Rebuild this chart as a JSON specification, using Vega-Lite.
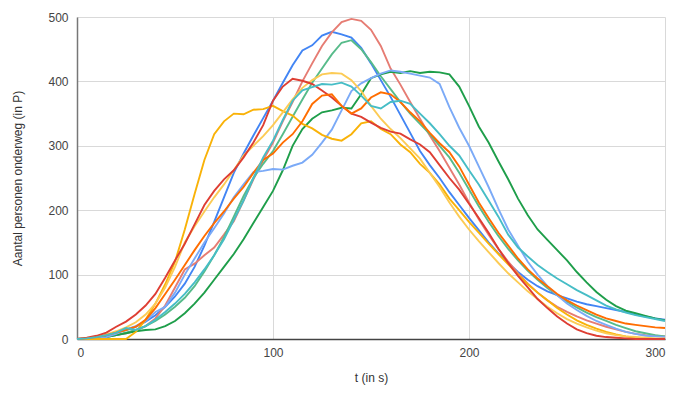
{
  "$schema": "https://vega.github.io/schema/vega-lite/v6.json",
  "width": 588,
  "height": 322,
  "autosize": {"type": "none"},
  "padding": {"left": 77, "top": 17, "right": 11, "bottom": 61},
  "background": "white",
  "config": {"view": {"stroke": null}, "font": "Liberation Sans"},
  "data": {"values": [
    {"t":0,"B":0,"S":0,"G":0,"D":0,"L":0,"Y":0,"W":0,"R":0,"O":0,"T":0},
    {"t":5,"B":1,"S":1,"G":0,"D":0,"L":0,"Y":0,"W":1,"R":2,"O":1,"T":1},
    {"t":10,"B":3,"S":2,"G":1,"D":1,"L":1,"Y":0,"W":3,"R":5,"O":3,"T":3},
    {"t":15,"B":6,"S":4,"G":3,"D":3,"L":3,"Y":0,"W":7,"R":10,"O":6,"T":6},
    {"t":20,"B":10,"S":6,"G":6,"D":6,"L":8,"Y":0,"W":12,"R":19,"O":10,"T":10},
    {"t":25,"B":14,"S":9,"G":10,"D":9,"L":15,"Y":0,"W":18,"R":27,"O":14,"T":17},
    {"t":30,"B":19,"S":13,"G":14,"D":12,"L":20,"Y":11,"W":26,"R":38,"O":19,"T":14},
    {"t":35,"B":27,"S":20,"G":20,"D":14,"L":28,"Y":30,"W":38,"R":52,"O":30,"T":20},
    {"t":40,"B":37,"S":32,"G":28,"D":15,"L":42,"Y":55,"W":55,"R":70,"O":48,"T":30},
    {"t":45,"B":50,"S":52,"G":38,"D":20,"L":50,"Y":85,"W":80,"R":95,"O":70,"T":42},
    {"t":50,"B":66,"S":80,"G":50,"D":28,"L":72,"Y":120,"W":112,"R":122,"O":92,"T":55},
    {"t":55,"B":86,"S":108,"G":64,"D":40,"L":100,"Y":170,"W":150,"R":148,"O":115,"T":70},
    {"t":60,"B":112,"S":117,"G":82,"D":55,"L":125,"Y":225,"W":175,"R":178,"O":138,"T":88},
    {"t":65,"B":145,"S":130,"G":105,"D":72,"L":150,"Y":278,"W":198,"R":208,"O":160,"T":108},
    {"t":70,"B":182,"S":142,"G":130,"D":92,"L":172,"Y":318,"W":220,"R":230,"O":180,"T":130},
    {"t":75,"B":220,"S":162,"G":158,"D":112,"L":195,"Y":338,"W":240,"R":248,"O":198,"T":155},
    {"t":80,"B":258,"S":183,"G":190,"D":132,"L":220,"Y":350,"W":262,"R":262,"O":218,"T":185},
    {"t":85,"B":288,"S":215,"G":222,"D":155,"L":240,"Y":349,"W":285,"R":282,"O":236,"T":215},
    {"t":90,"B":316,"S":248,"G":250,"D":180,"L":259,"Y":356,"W":300,"R":305,"O":258,"T":250},
    {"t":95,"B":343,"S":278,"G":272,"D":205,"L":261,"Y":357,"W":315,"R":332,"O":278,"T":282},
    {"t":100,"B":370,"S":305,"G":292,"D":230,"L":264,"Y":362,"W":332,"R":370,"O":288,"T":308},
    {"t":105,"B":398,"S":338,"G":318,"D":262,"L":263,"Y":354,"W":352,"R":392,"O":305,"T":340},
    {"t":110,"B":425,"S":368,"G":345,"D":300,"L":269,"Y":347,"W":372,"R":404,"O":318,"T":370},
    {"t":115,"B":448,"S":400,"G":372,"D":326,"L":274,"Y":334,"W":390,"R":401,"O":338,"T":386},
    {"t":120,"B":456,"S":428,"G":398,"D":342,"L":286,"Y":327,"W":402,"R":396,"O":365,"T":391},
    {"t":125,"B":471,"S":455,"G":420,"D":352,"L":305,"Y":317,"W":411,"R":386,"O":378,"T":396},
    {"t":130,"B":477,"S":476,"G":442,"D":355,"L":325,"Y":311,"W":413,"R":375,"O":380,"T":395},
    {"t":135,"B":473,"S":492,"G":460,"D":359,"L":355,"Y":308,"W":412,"R":362,"O":362,"T":398},
    {"t":140,"B":468,"S":497,"G":464,"D":358,"L":385,"Y":318,"W":402,"R":350,"O":350,"T":392},
    {"t":145,"B":452,"S":494,"G":450,"D":380,"L":397,"Y":335,"W":385,"R":345,"O":358,"T":378},
    {"t":150,"B":428,"S":480,"G":430,"D":405,"L":405,"Y":338,"W":362,"R":336,"O":375,"T":362},
    {"t":155,"B":402,"S":455,"G":408,"D":411,"L":412,"Y":326,"W":342,"R":328,"O":383,"T":358},
    {"t":160,"B":376,"S":420,"G":388,"D":415,"L":417,"Y":318,"W":326,"R":322,"O":380,"T":368},
    {"t":165,"B":348,"S":395,"G":368,"D":413,"L":415,"Y":302,"W":312,"R":319,"O":368,"T":370},
    {"t":170,"B":320,"S":368,"G":350,"D":416,"L":412,"Y":290,"W":296,"R":310,"O":352,"T":365},
    {"t":175,"B":292,"S":342,"G":334,"D":413,"L":409,"Y":272,"W":280,"R":302,"O":338,"T":350},
    {"t":180,"B":270,"S":316,"G":318,"D":415,"L":406,"Y":258,"W":258,"R":290,"O":320,"T":335},
    {"t":185,"B":250,"S":292,"G":300,"D":414,"L":396,"Y":240,"W":236,"R":270,"O":304,"T":318},
    {"t":190,"B":228,"S":266,"G":282,"D":411,"L":360,"Y":218,"W":212,"R":250,"O":290,"T":300},
    {"t":195,"B":208,"S":240,"G":258,"D":392,"L":328,"Y":200,"W":190,"R":232,"O":268,"T":285},
    {"t":200,"B":188,"S":212,"G":232,"D":362,"L":300,"Y":182,"W":170,"R":210,"O":240,"T":262},
    {"t":205,"B":169,"S":186,"G":206,"D":330,"L":268,"Y":165,"W":152,"R":188,"O":212,"T":240},
    {"t":210,"B":150,"S":162,"G":182,"D":305,"L":236,"Y":148,"W":135,"R":165,"O":188,"T":215},
    {"t":215,"B":133,"S":140,"G":160,"D":276,"L":202,"Y":132,"W":118,"R":140,"O":165,"T":190},
    {"t":220,"B":118,"S":120,"G":140,"D":248,"L":170,"Y":116,"W":102,"R":118,"O":145,"T":162},
    {"t":225,"B":104,"S":102,"G":122,"D":218,"L":145,"Y":100,"W":88,"R":98,"O":125,"T":142},
    {"t":230,"B":92,"S":86,"G":106,"D":192,"L":120,"Y":85,"W":74,"R":80,"O":108,"T":128},
    {"t":235,"B":82,"S":72,"G":92,"D":170,"L":100,"Y":72,"W":62,"R":62,"O":94,"T":115},
    {"t":240,"B":74,"S":60,"G":79,"D":154,"L":82,"Y":60,"W":50,"R":48,"O":82,"T":104},
    {"t":245,"B":68,"S":50,"G":68,"D":138,"L":68,"Y":48,"W":40,"R":35,"O":70,"T":94},
    {"t":250,"B":63,"S":42,"G":58,"D":122,"L":55,"Y":38,"W":31,"R":24,"O":60,"T":85},
    {"t":255,"B":58,"S":35,"G":49,"D":104,"L":45,"Y":29,"W":24,"R":15,"O":52,"T":76},
    {"t":260,"B":54,"S":29,"G":41,"D":88,"L":36,"Y":22,"W":18,"R":9,"O":45,"T":68},
    {"t":265,"B":51,"S":24,"G":34,"D":73,"L":28,"Y":16,"W":13,"R":5,"O":38,"T":60},
    {"t":270,"B":48,"S":19,"G":28,"D":61,"L":22,"Y":11,"W":9,"R":3,"O":32,"T":52},
    {"t":275,"B":45,"S":15,"G":22,"D":51,"L":16,"Y":7,"W":6,"R":2,"O":28,"T":46},
    {"t":280,"B":42,"S":11,"G":17,"D":44,"L":11,"Y":4,"W":4,"R":1,"O":24,"T":41},
    {"t":285,"B":38,"S":8,"G":12,"D":40,"L":8,"Y":2,"W":3,"R":0,"O":22,"T":37},
    {"t":290,"B":35,"S":6,"G":9,"D":36,"L":5,"Y":1,"W":2,"R":0,"O":20,"T":34},
    {"t":295,"B":32,"S":5,"G":6,"D":32,"L":4,"Y":0,"W":1,"R":0,"O":18,"T":31},
    {"t":300,"B":30,"S":4,"G":4,"D":29,"L":3,"Y":0,"W":1,"R":0,"O":17,"T":28}
  ]},
  "transform": [{"fold": ["B","S","G","D","L","Y","W","R","O","T"], "as": ["serie","waarde"]}],
  "mark": {"type": "line", "strokeWidth": 1.9, "interpolate": "linear"},
  "encoding": {
    "x": {"field": "t", "type": "quantitative",
      "scale": {"domain": [0,300], "nice": false},
      "axis": {"values": [0,100,200,300], "title": "t (in s)", "grid": true, "gridColor": "#d9d9d9",
        "ticks": false, "domainColor": "#444", "domainWidth": 1.5, "labelColor": "#444", "labelFontSize": 12,
        "labelPadding": 8, "titleColor": "#333", "titleFontSize": 12, "titleFontWeight": "normal", "titlePadding": 14}},
    "y": {"field": "waarde", "type": "quantitative",
      "scale": {"domain": [0,500], "nice": false},
      "axis": {"values": [0,100,200,300,400,500], "title": "Aantal personen onderweg (in P)", "grid": true, "gridColor": "#d9d9d9",
        "ticks": false, "domainColor": "#777", "domainWidth": 1.5, "labelColor": "#444", "labelFontSize": 12,
        "labelPadding": 9, "titleColor": "#333", "titleFontSize": 12, "titleFontWeight": "normal", "titlePadding": 23}},
    "color": {"field": "serie", "type": "nominal", "legend": null,
      "scale": {"domain": ["B","S","G","D","L","Y","W","R","O","T"],
        "range": ["#4285F4","#E67C73","#57BB8A","#1E9E4A","#7BAAF7","#F9B208","#FCCB55","#DE3E33","#FF6D01","#46BDC6"]}}
  }
}
